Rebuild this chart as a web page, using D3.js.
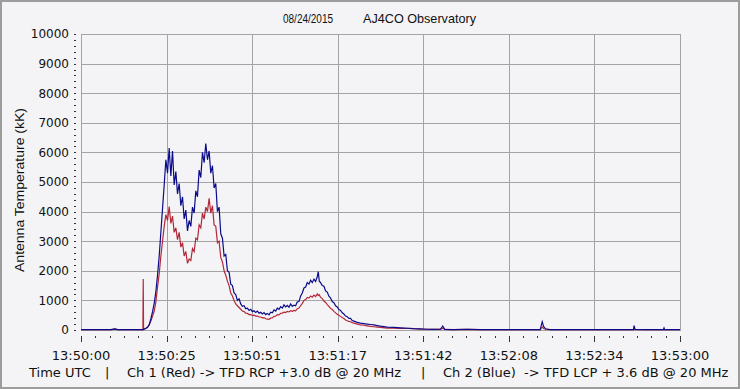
<!DOCTYPE html>
<html>
<head>
<meta charset="utf-8">
<script src="https://cdn.jsdelivr.net/npm/d3@7"></script>
<style>
  body { margin: 0; background: #f4f4f6; }
  svg { display: block; }
</style>
</head>
<body>
<svg id="chart" width="740" height="389"></svg>
<script>
// seconds after 13:50:00 UTC
var seconds = [
  0, 3, 6, 9, 10.2, 11, 14, 17, 18.5, 18.6, 18.7, 18.8,
  19, 19.5, 20, 20.5, 21, 21.5, 22, 22.5, 23, 23.5, 24, 24.5,
  25, 25.5, 26, 26.5, 27, 27.5, 28, 28.5, 29, 29.5, 30, 30.5,
  31, 31.5, 32, 32.5, 33, 33.5, 34, 34.5, 35, 35.5, 36, 36.5,
  37, 37.5, 38, 38.5, 39, 39.5, 40, 40.5, 41, 41.5, 42, 42.5,
  43, 43.5, 44, 44.5, 45, 45.5, 46, 46.5, 47, 47.5,
  48, 48.5, 49, 49.5, 50, 50.5, 51, 51.5, 52, 52.5, 53, 53.5,
  54, 54.5, 55, 55.5, 56, 56.5, 57, 57.5, 58, 58.5, 59, 59.5,
  60, 60.5, 61, 61.5, 62, 62.5, 63, 63.5, 64, 64.5, 65, 65.5,
  66, 66.5, 67, 67.5, 68, 68.5, 69, 69.5, 70, 70.5, 71, 71.3, 71.6,
  72, 72.5, 73, 73.5, 74, 74.5, 75, 75.5, 76, 76.5, 77, 77.5,
  78, 78.5, 79, 79.5, 80, 80.5, 81, 81.5, 82,
  83, 84, 85, 86, 87, 88, 89, 90, 92, 94, 96, 98, 100, 102, 104, 106,
  108, 108.7, 109.3, 112, 116, 120, 125, 130, 135, 138, 138.3, 138.6,
  139, 139.6, 141, 146, 152, 158, 164, 166, 166.2, 166.5, 170, 175,
  175.2, 175.4, 180
];

// Ch 1 (Red) - RCP, kK
var ch1Red = [
  10, 10, 8, 12, 30, 10, 10, 10, 12, 10, 1720, 40,
  40, 60, 100, 170, 300, 470, 640, 950, 1450, 1900, 2500, 3000,
  3500, 3900, 3700, 4170, 3600, 3850, 3300, 3450, 3050, 3300, 2800, 2950,
  2500, 2650, 2250, 2400, 2350, 2750, 2650, 3100, 3050, 3550, 3450, 3950,
  3750, 4150, 4000, 4450, 3950, 4200, 3550, 3500, 2950, 3000, 2450, 2300,
  2000, 1850, 1650, 1500, 1250, 1150, 1000, 880, 820, 760,
  700, 640, 620, 570, 560, 520, 520, 490, 500, 470, 470, 440,
  440, 410, 420, 380, 370, 360, 400, 410, 460, 470, 520, 510,
  560, 570, 600, 590, 630, 610, 650, 630, 660, 650, 720, 740,
  820, 900, 1000, 1030, 1100, 1080, 1150, 1110, 1180, 1130, 1220, 1160, 1190,
  1100, 1060, 980, 930, 860, 800, 730, 690, 630, 580, 530, 500,
  460, 420, 390, 340, 310, 290, 280, 250, 230,
  200, 170, 160, 140, 120, 110, 100, 90, 65, 60, 55, 55, 45, 30, 25, 20,
  20, 60, 18, 15, 20, 12, 10, 10, 10, 10, 60, 100,
  50, 25, 12, 10, 10, 10, 10, 10, 40, 12, 10, 10,
  20, 10, 10
];

// Ch 2 (Blue) - LCP, kK
var ch2Blue = [
  10, 12, 10, 14, 40, 12, 10, 12, 15, 15, 20, 20,
  30, 50, 90, 180, 380, 620, 900, 1300, 1850, 2500, 3300, 4100,
  4900, 5750, 5300, 6150, 5200, 6050, 4900, 5350, 4600, 4950, 4200, 4500,
  3750, 4050, 3350, 3700, 3500, 4150, 3950, 4700, 4500, 5400, 5150, 6000,
  5650, 6300, 5750, 6050, 5300, 5550, 4800, 4950, 4000, 4150, 3250, 3100,
  2500, 2550, 2000, 1950, 1550, 1500, 1250, 1200, 1000, 1050,
  880, 800, 820, 720, 740, 660, 700, 620, 650, 590, 640, 570,
  600, 540, 590, 520, 560, 510, 600, 580, 680, 640, 740, 700,
  790, 740, 850, 780, 830, 770, 880, 800, 840, 820, 950, 960,
  1150, 1250, 1420, 1450, 1600, 1550, 1680, 1600, 1720, 1640, 1800, 1970, 1650,
  1600, 1500, 1480, 1320, 1280, 1140, 1080, 960, 920, 820, 780, 690,
  660, 580, 540, 470, 450, 390, 390, 320, 300,
  260, 230, 215, 200, 185, 170, 150, 130, 100, 90, 75, 60, 45, 35, 25, 20,
  25, 135, 20, 15, 25, 15, 12, 10, 12, 10, 150, 280,
  120, 40, 15, 12, 10, 12, 10, 12, 145, 20, 12, 12,
  70, 12, 10
];

var timeLabels = ["13:50:00", "13:50:25", "13:50:51", "13:51:17",
                  "13:51:42", "13:52:08", "13:52:34", "13:53:00"];
var tempTicks = [0, 1000, 2000, 3000, 4000, 5000, 6000, 7000, 8000, 9000, 10000];

var svg = d3.select("#chart"),
    width = +svg.attr("width"),
    height = +svg.attr("height");

var plotLeft = 81, plotRight = 680, plotTop = 34, plotBottom = 330;

var x = d3.scaleLinear().domain([0, 180]).range([plotLeft, plotRight]);
var y = d3.scaleLinear().domain([0, 10000]).range([plotBottom, plotTop]);

// background + frame
svg.append("rect")
    .attr("x", 1).attr("y", 1)
    .attr("width", width - 2).attr("height", height - 2)
    .attr("fill", "#f4f4f6")
    .attr("stroke", "#9c9c9c")
    .attr("stroke-width", 2);

// grid
var majorSecs = timeLabels.map(function(d, i) { return i * 180 / (timeLabels.length - 1); });
var minorSecs = d3.range(0, 43).map(function(i) { return i * 180 / 42; });

var grid = svg.append("g").attr("shape-rendering", "crispEdges");

grid.selectAll(".hgrid")
  .data(tempTicks)
  .enter().append("line")
    .attr("x1", plotLeft).attr("x2", plotRight)
    .attr("y1", function(d) { return Math.round(y(d)) + 0.5; })
    .attr("y2", function(d) { return Math.round(y(d)) + 0.5; })
    .attr("stroke", "#a4a4a4");

grid.selectAll(".vgrid")
  .data(majorSecs)
  .enter().append("line")
    .attr("x1", function(d) { return Math.round(x(d)) + 0.5; })
    .attr("x2", function(d) { return Math.round(x(d)) + 0.5; })
    .attr("y1", plotTop).attr("y2", plotBottom + 1)
    .attr("stroke", "#a4a4a4");

// y axis: labels + dotted ticks sitting left of the plot
var yMinor = d3.range(0, 51).map(function(i) { return i * 200; });

grid.selectAll(".ytick")
  .data(yMinor)
  .enter().append("line")
    .attr("x1", 74).attr("x2", 76)
    .attr("y1", function(d) { return Math.round(y(d)) + 0.5; })
    .attr("y2", function(d) { return Math.round(y(d)) + 0.5; })
    .attr("stroke", "#333");

svg.selectAll(".ylabel")
  .data(tempTicks)
  .enter().append("text")
    .attr("x", 69)
    .attr("y", function(d) { return y(d); })
    .attr("dy", "0.36em")
    .attr("text-anchor", "end")
    .attr("font-family", "DejaVu Sans")
    .attr("font-size", 12)
    .attr("fill", "#111")
    .text(function(d) { return d; });

// x axis ticks
grid.selectAll(".xminor")
  .data(minorSecs)
  .enter().append("line")
    .attr("x1", function(d) { return Math.round(x(d)) + 0.5; })
    .attr("x2", function(d) { return Math.round(x(d)) + 0.5; })
    .attr("y1", 336)
    .attr("y2", function(d, i) { return i % 6 === 0 ? 342 : 338; })
    .attr("stroke", "#333");

svg.selectAll(".xlabel")
  .data(timeLabels)
  .enter().append("text")
    .attr("x", function(d, i) { return x(majorSecs[i]); })
    .attr("y", 360)
    .attr("text-anchor", "middle")
    .attr("font-family", "DejaVu Sans")
    .attr("font-size", 13)
    .attr("fill", "#111")
    .text(function(d) { return d; });

// series
var red = seconds.map(function(t, i) { return [t, ch1Red[i]]; });
var blue = seconds.map(function(t, i) { return [t, ch2Blue[i]]; });

var line = d3.line()
    .x(function(d) { return x(d[0]); })
    .y(function(d) { return y(d[1]); });

svg.append("path")
    .datum(red)
    .attr("d", line)
    .attr("fill", "none")
    .attr("stroke", "#b4283a")
    .attr("stroke-width", 1.2);

svg.append("path")
    .datum(blue)
    .attr("d", line)
    .attr("fill", "none")
    .attr("stroke", "#0c0c8a")
    .attr("stroke-width", 1.2);

// title
svg.append("text")
    .attr("x", 283).attr("y", 22.5)
    .attr("font-family", "Liberation Sans")
    .attr("font-size", 13)
    .attr("textLength", 50).attr("lengthAdjust", "spacingAndGlyphs")
    .attr("fill", "#111")
    .text("08/24/2015");

svg.append("text")
    .attr("x", 363).attr("y", 22.5)
    .attr("font-family", "Liberation Sans")
    .attr("font-size", 13)
    .attr("textLength", 113).attr("lengthAdjust", "spacingAndGlyphs")
    .attr("fill", "#111")
    .text("AJ4CO Observatory");

// y axis title
svg.append("text")
    .attr("transform", "translate(24,190) rotate(-90)")
    .attr("text-anchor", "middle")
    .attr("font-family", "Liberation Sans")
    .attr("font-size", 13)
    .attr("textLength", 164).attr("lengthAdjust", "spacingAndGlyphs")
    .attr("fill", "#111")
    .text("Antenna Temperature (kK)");

// footer
var footer = [
  {x: 29, text: "Time UTC"},
  {x: 105, text: "|"},
  {x: 127, text: "Ch 1 (Red) -> TFD RCP +3.0 dB @ 20 MHz"},
  {x: 421, text: "|"},
  {x: 443, text: "Ch 2 (Blue)  -> TFD LCP + 3.6 dB @ 20 MHz"}
];

svg.selectAll(".footer")
  .data(footer)
  .enter().append("text")
    .attr("x", function(d) { return d.x; })
    .attr("y", 377)
    .attr("font-family", "DejaVu Sans")
    .attr("font-size", 13)
    .attr("xml:space", "preserve")
    .style("white-space", "pre")
    .attr("fill", "#111")
    .text(function(d) { return d.text; });
</script>
</body>
</html>
